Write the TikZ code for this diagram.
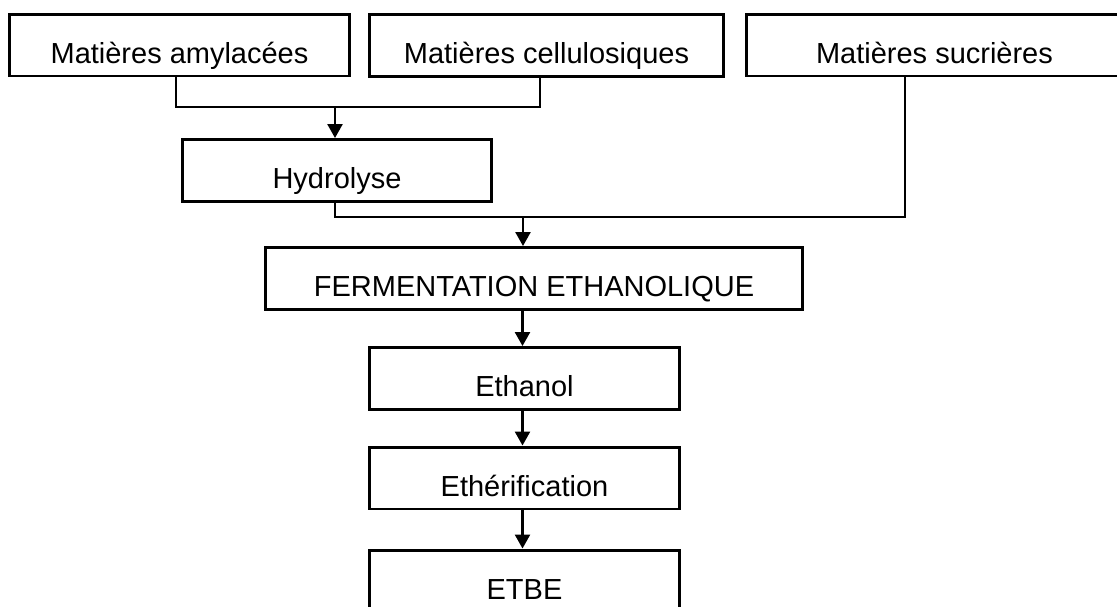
\documentclass[tikz,border=0pt]{standalone}
\usepackage{fontspec}
\setmainfont{Liberation Sans}
\usetikzlibrary{calc,arrows.meta}

\begin{document}
\begin{tikzpicture}[x=0.02cm,y=-0.02cm,
    boite/.style={draw,line width=1.7pt,inner sep=0pt,minimum height=1.24cm,
      text height=0.72cm,text depth=0pt,font=\fontsize{16.5}{19}\selectfont},
    trait/.style={line width=0.7pt},
    fleche/.style={line width=1.4pt,-{Triangle[length=0.28cm,width=0.3cm]}}]
  \useasboundingbox (0,0) rectangle (1117,606);
  % matieres premieres
  \node[boite,minimum width=6.82cm](amyl)at(179.5,45){Matières amylacées};
  \node[boite,minimum width=7.10cm](cellu)at(546.5,45.5){Matières cellulosiques};
  \node[boite,minimum width=7.54cm](sucre)at(934.5,45){Matières sucrières};
  % filiere
  \node[boite,minimum width=6.20cm](hydro)at(337,170.5){Hydrolyse};
  \node[boite,minimum width=10.76cm](ferm)at(534,278.5){FERMENTATION ETHANOLIQUE};
  \node[boite,minimum width=6.22cm](ethanol)at(524.5,378.5){Ethanol};
  \node[boite,minimum width=6.22cm](ether)at(524.5,478){Ethérification};
  \node[boite,minimum width=6.22cm](etbe)at(524.5,581){ETBE};
  \coordinate (m1) at (335,107);
  \coordinate (m2) at (523,217);
  \draw[trait] ($(amyl.south)+(-3.5,0)$) |- (m1) -| ($(cellu.south)+(-6.5,0)$);
  \draw[fleche] (m1) -- (m1 |- hydro.north);
  \draw[trait] ($(hydro.south)+(-2,0)$) |- (m2) -| ($(sucre.south)+(-29.5,0)$);
  \draw[fleche] (m2) -- (m2 |- ferm.north);
  \draw[fleche] ($(ethanol.north |- ferm.south)+(-2,0)$) -- ($(ethanol.north)+(-2,0)$);
  \draw[fleche] ($(ethanol.south)+(-2,0)$) -- ($(ether.north)+(-2,0)$);
  \draw[fleche] ($(ether.south)+(-2,0)$) -- ($(etbe.north)+(-2,0)$);
\end{tikzpicture}
\end{document}
